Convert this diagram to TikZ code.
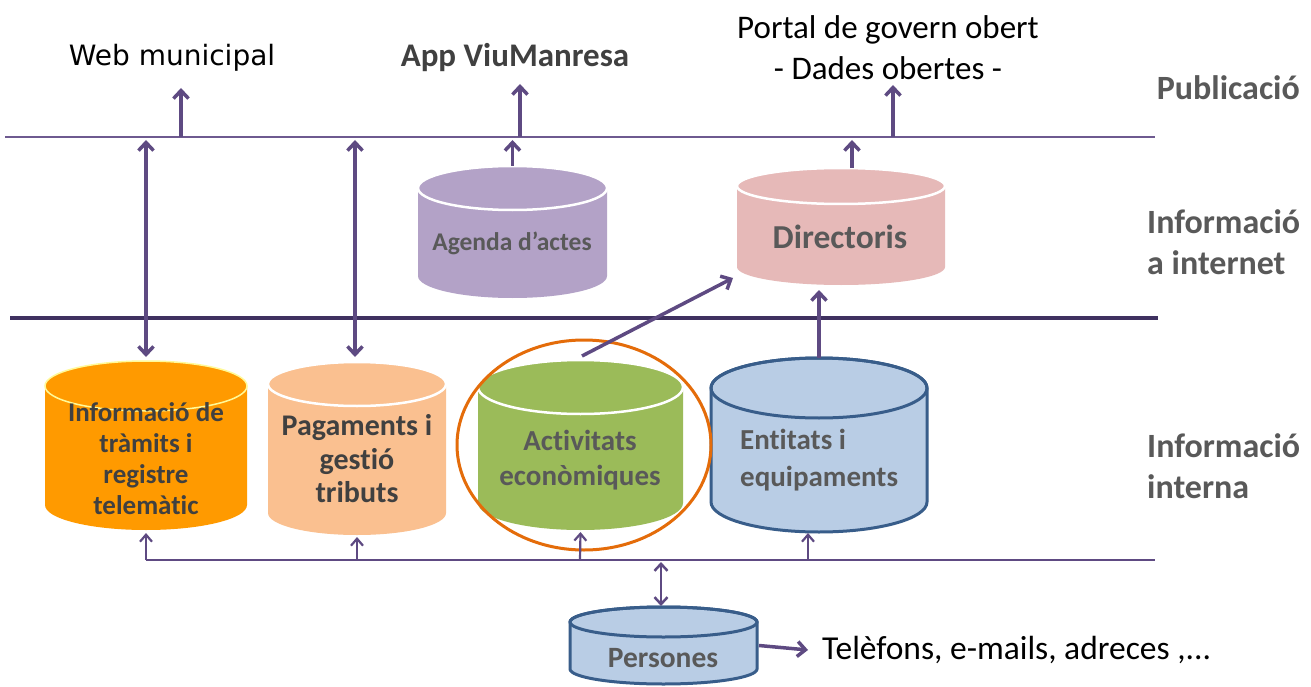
\documentclass[tikz,border=0pt]{standalone}
\usepackage{fontspec}
\setmainfont{Carlito}[Ligatures={NoCommon,NoRequired,NoContextual}]
\newfontfamily\dvs{DejaVu Sans}
\usetikzlibrary{arrows.meta,calc,shapes.geometric}
\definecolor{lp}{HTML}{5E4A82}
\definecolor{lineA}{HTML}{6E5A90}
\definecolor{lineB}{HTML}{3F3160}
\definecolor{cOrange}{HTML}{FF9A00}
\definecolor{cPeach}{HTML}{FAC090}
\definecolor{cGreen}{HTML}{9BBB59}
\definecolor{cBlue}{HTML}{B9CDE5}
\definecolor{cBlueEdge}{HTML}{385D8A}
\definecolor{cLilac}{HTML}{B3A2C7}
\definecolor{cRose}{HTML}{E6B9B8}
\definecolor{cHigh}{HTML}{E46C0A}
\definecolor{txtD}{HTML}{404040}
\definecolor{txtM}{HTML}{595959}
% #1 name, #2 cx, #3 top ellipse centre y, #4 bottom ellipse centre y, #5 rx, #6 ry, #7 fill, #8 body style, #9 top-rim style
\newcommand{\mycyl}[9]{%
  \path[fill=#7,#8] (#2-#5,#3) -- (#2-#5,#4)
    arc[start angle=180,end angle=360,x radius=#5pt,y radius=#6pt]
    -- (#2+#5,#3)
    arc[start angle=0,end angle=180,x radius=#5pt,y radius=#6pt] -- cycle;
  \path[#9] (#2,#3) ellipse[x radius=#5pt,y radius=#6pt];
  \node[inner sep=0pt,outer sep=0pt,minimum width={2*#5*1pt},minimum height={(#4-#3+2*#6)*1pt}] (#1) at (#2,{(#3+#4)/2}) {};
}
\tikzset{
  arr/.style={draw=lp,line width=3.5pt,-{Straight Barb[length=8pt,width=15pt]}},
  arrd/.style={draw=lp,line width=3.5pt,{Straight Barb[length=8pt,width=15pt]}-{Straight Barb[length=8pt,width=15pt]}},
  sarr/.style={draw=lp,line width=2.2pt,-{Straight Barb[length=7pt,width=12pt]}},
  sarrd/.style={draw=lp,line width=2.5pt,{Straight Barb[length=7pt,width=13pt]}-{Straight Barb[length=7pt,width=13pt]}},
  toplab/.style={font=\fontsize{33}{41}\selectfont,text=black,inner sep=0pt,align=center},
  sidelab/.style={font=\bfseries\fontsize{34}{41}\selectfont,text=txtM,inner sep=0pt,align=left},
  cyltxt/.style={font=\bfseries,text=txtD,inner sep=0pt,align=center},
  whiterim/.style={draw=white,line width=2.5pt},
}
\begin{document}
\begin{tikzpicture}[x=1pt,y=-1pt]
\useasboundingbox (0,0) rectangle (1311,687);
\fill[white] (0,0) rectangle (1311,687);

% cylinders
\mycyl{orange}{146}{386}{505}{101}{25}{cOrange}{}{draw=yellow!40!white,line width=1.5pt}
\mycyl{peach}{357}{384}{513}{89}{22}{cPeach}{}{whiterim}
\mycyl{green}{580.5}{387}{503}{102.5}{27}{cGreen}{}{whiterim}
\mycyl{entitats}{819}{388}{502}{108}{30}{cBlue}{draw=cBlueEdge,line width=3pt}{draw=cBlueEdge,line width=3pt}
\mycyl{agenda}{512.5}{188}{276}{94.5}{22}{cLilac}{}{whiterim}
\mycyl{directoris}{841}{186}{267}{104}{18}{cRose}{}{whiterim}
\mycyl{persones}{663.5}{622}{669}{93.5}{15}{cBlue}{draw=cBlueEdge,line width=3pt}{draw=cBlueEdge,line width=3pt}

% texts in cylinders
\node[cyltxt,font=\bfseries\fontsize{27}{31}\selectfont] (torange) at (146,459) {Informació de\\tràmits i\\registre\\telemàtic};
\node[cyltxt,font=\bfseries\fontsize{30}{33.5}\selectfont] (tpeach) at (357,459) {Pagaments i\\gestió\\tributs};
\node[cyltxt,text=txtM,font=\bfseries\fontsize{29}{35}\selectfont] (tgreen) at (580,460) {Activitats\\econòmiques};
\node[cyltxt,text=txtM,align=left,anchor=west,font=\bfseries\fontsize{29}{37}\selectfont] (tentitats) at (740,460) {Entitats i\\equipaments};
\node[cyltxt,text=txtM,font=\bfseries\fontsize{25.5}{28}\selectfont] (tagenda) at (512,243) {Agenda d’actes};
\node[cyltxt,text=txtM,font=\bfseries\fontsize{33.5}{36}\selectfont] (tdir) at (840,237) {Directoris};
\node[cyltxt,text=txtM,font=\bfseries\fontsize{29.5}{32}\selectfont] (tpers) at (663,658) {Persones};

% highlight
\node[ellipse,draw=cHigh,line width=3pt,minimum width=254pt,minimum height=210pt,inner sep=0pt] (hl) at (584,445) {};

% layer lines
\coordinate (tl0) at (5,137);   \coordinate (tl1) at (1155,137);
\coordinate (ml0) at (10,318);  \coordinate (ml1) at (1158,318);
\coordinate (bl0) at (146,560); \coordinate (bl1) at (1155,560);
\draw[lineA,line width=2.5pt] (tl0) -- (tl1);
\draw[lineB,line width=3.8pt] (ml0) -- (ml1);
\draw[lp,line width=2.5pt] (bl0) -- (bl1);

% top labels
\node[font=\dvs\fontsize{28}{32}\selectfont,inner sep=0pt] (web) at (172,58) {Web municipal};
\node[toplab,font=\bfseries\fontsize{33}{40}\selectfont,text=txtD] (app) at (515,58) {App ViuManresa};
\node[toplab] (portal) at (888,48) {Portal de govern obert\\- Dades obertes -};

% side labels
\node[sidelab,anchor=east] (pub) at (1300,88) {Publicació};
\node[sidelab,anchor=west] (inet) at (1147,242) {Informació\\a internet};
\node[sidelab,anchor=west] (intl) at (1147,466) {Informació\\interna};

\node[font=\fontsize{33.5}{38}\selectfont,anchor=west,inner sep=0pt] (tel) at (822,650) {Telèfons, e-mails, adreces ,...};

% publication arrows
\coordinate (pw) at (181,137); \coordinate (pa) at (520,137); \coordinate (pp) at (893,137);
\draw[arr] (pw) -- (181,88);
\draw[arr] (pa) -- (520,84);
\draw[arr] (pp) -- (893,85);

% double arrows to web
\coordinate (d1) at (146,140); \coordinate (d2) at (355,140);
\draw[arrd] (d1) -- ($(orange.north)+(0,-4)$);
\draw[arrd] (d2) -- ($(peach.north)+(-2,-5)$);

% internet cylinders to top line
\draw[arr] (agenda.north) -- (512.5,140);
\draw[arr] (852,0 |- directoris.north) -- (852,140);

% to directoris
\draw[arr] (entitats.north) -- (819,290);
\coordinate (ga) at (582,356);
\coordinate (gb) at (733,278);
\draw[arr] (ga) -- (gb);

% bus arrows
\draw[sarr] (bl0) -- ($(orange.south)+(0,3)$);
\draw[sarr] (357,560) -- ($(peach.south)+(0,2)$);
\draw[sarr] (580,560) -- ($(green.south)+(0,2)$);
\draw[sarr] (808,560) -- (808,533);
\draw[sarrd] (661,562) -- (661,606);
\draw[arr] (persones.east) ++(2,0) coordinate (pe) (pe) -- (808,650);
\end{tikzpicture}
\end{document}
